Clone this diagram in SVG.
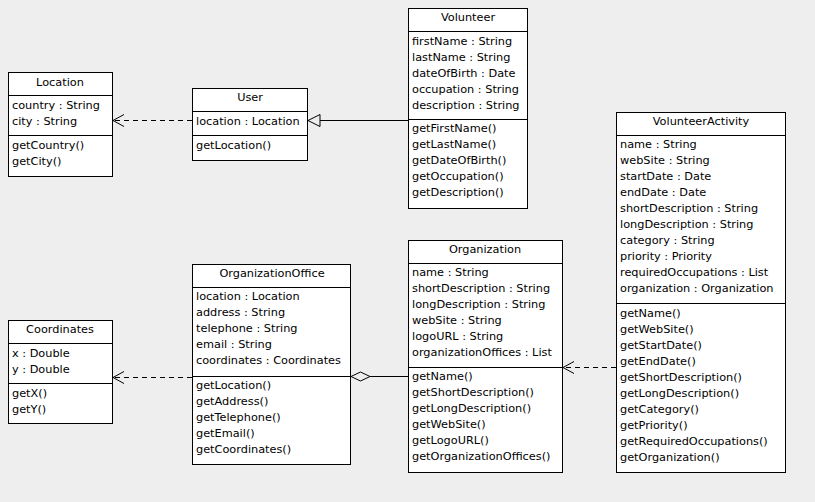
<svg xmlns="http://www.w3.org/2000/svg" width="815" height="502" viewBox="0 0 815 502">
<style>
rect.b{fill:#fff;stroke:#000;stroke-width:1}
line.s{stroke:#000;stroke-width:1}
text{font-family:"DejaVu Sans",sans-serif;font-size:11.3px;fill:#000}
text.t{text-anchor:middle}
.c{stroke:#000;stroke-width:1;fill:none}
.d{stroke-dasharray:5,4}
</style>
<rect width="815" height="502" fill="#eeeeee"/>
<g id="connectors">
<line class="c d" x1="192" y1="120.5" x2="114" y2="120.5"/>
<polyline class="c" points="124,114.5 113,120.5 124,126.5"/>
<line class="c" x1="408" y1="120.5" x2="320" y2="120.5"/>
<polygon class="c" points="308,120.5 320,114.5 320,126.5" fill="#fff"/>
<line class="c d" x1="192" y1="377.5" x2="114" y2="377.5"/>
<polyline class="c" points="124,371.5 113,377.5 124,383.5"/>
<line class="c" x1="370" y1="376.5" x2="408" y2="376.5"/>
<polygon class="c" points="351,376.5 360.5,372 370,376.5 360.5,381" fill="#fff"/>
<line class="c d" x1="616" y1="367.5" x2="564" y2="367.5"/>
<polyline class="c" points="574,361.5 563,367.5 574,373.5"/>
</g>
<g id="Location">
<rect class="b" x="8.5" y="72.5" width="104" height="104"/>
<text class="t" x="60" y="86">Location</text>
<line class="s" x1="8.5" y1="95.5" x2="112.5" y2="95.5"/>
<text x="12" y="109">country : String</text>
<text x="12" y="125">city : String</text>
<line class="s" x1="8.5" y1="135.5" x2="112.5" y2="135.5"/>
<text x="12" y="149">getCountry()</text>
<text x="12" y="165">getCity()</text>
</g>
<g id="User">
<rect class="b" x="192.5" y="88.5" width="115" height="72"/>
<text class="t" x="250" y="101">User</text>
<line class="s" x1="192.5" y1="111.5" x2="307.5" y2="111.5"/>
<text x="196" y="125">location : Location</text>
<line class="s" x1="192.5" y1="135.5" x2="307.5" y2="135.5"/>
<text x="196" y="149">getLocation()</text>
</g>
<g id="Volunteer">
<rect class="b" x="408.5" y="8.5" width="119" height="200"/>
<text class="t" x="468" y="21">Volunteer</text>
<line class="s" x1="408.5" y1="31.5" x2="527.5" y2="31.5"/>
<text x="412" y="45">firstName : String</text>
<text x="412" y="61">lastName : String</text>
<text x="412" y="77">dateOfBirth : Date</text>
<text x="412" y="93">occupation : String</text>
<text x="412" y="109">description : String</text>
<line class="s" x1="408.5" y1="119.5" x2="527.5" y2="119.5"/>
<text x="412" y="132">getFirstName()</text>
<text x="412" y="148">getLastName()</text>
<text x="412" y="164">getDateOfBirth()</text>
<text x="412" y="180">getOccupation()</text>
<text x="412" y="196">getDescription()</text>
</g>
<g id="VolunteerActivity">
<rect class="b" x="616.5" y="112.5" width="169" height="360"/>
<text class="t" x="701" y="125">VolunteerActivity</text>
<line class="s" x1="616.5" y1="135.5" x2="785.5" y2="135.5"/>
<text x="620" y="148">name : String</text>
<text x="620" y="164">webSite : String</text>
<text x="620" y="180">startDate : Date</text>
<text x="620" y="196">endDate : Date</text>
<text x="620" y="212">shortDescription : String</text>
<text x="620" y="228">longDescription : String</text>
<text x="620" y="244">category : String</text>
<text x="620" y="260">priority : Priority</text>
<text x="620" y="276">requiredOccupations : List</text>
<text x="620" y="292">organization : Organization</text>
<line class="s" x1="616.5" y1="303.5" x2="785.5" y2="303.5"/>
<text x="620" y="317">getName()</text>
<text x="620" y="333">getWebSite()</text>
<text x="620" y="349">getStartDate()</text>
<text x="620" y="365">getEndDate()</text>
<text x="620" y="381">getShortDescription()</text>
<text x="620" y="397">getLongDescription()</text>
<text x="620" y="413">getCategory()</text>
<text x="620" y="429">getPriority()</text>
<text x="620" y="445">getRequiredOccupations()</text>
<text x="620" y="461">getOrganization()</text>
</g>
<g id="Organization">
<rect class="b" x="408.5" y="240.5" width="154" height="232"/>
<text class="t" x="485" y="253">Organization</text>
<line class="s" x1="408.5" y1="263.5" x2="562.5" y2="263.5"/>
<text x="412" y="276">name : String</text>
<text x="412" y="292">shortDescription : String</text>
<text x="412" y="308">longDescription : String</text>
<text x="412" y="324">webSite : String</text>
<text x="412" y="340">logoURL : String</text>
<text x="412" y="356">organizationOffices : List</text>
<line class="s" x1="408.5" y1="367.5" x2="562.5" y2="367.5"/>
<text x="412" y="380">getName()</text>
<text x="412" y="396">getShortDescription()</text>
<text x="412" y="412">getLongDescription()</text>
<text x="412" y="428">getWebSite()</text>
<text x="412" y="444">getLogoURL()</text>
<text x="412" y="460">getOrganizationOffices()</text>
</g>
<g id="OrganizationOffice">
<rect class="b" x="192.5" y="264.5" width="158" height="200"/>
<text class="t" x="272" y="277">OrganizationOffice</text>
<line class="s" x1="192.5" y1="287.5" x2="350.5" y2="287.5"/>
<text x="196" y="300">location : Location</text>
<text x="196" y="316">address : String</text>
<text x="196" y="332">telephone : String</text>
<text x="196" y="348">email : String</text>
<text x="196" y="364">coordinates : Coordinates</text>
<line class="s" x1="192.5" y1="376.5" x2="350.5" y2="376.5"/>
<text x="196" y="389">getLocation()</text>
<text x="196" y="405">getAddress()</text>
<text x="196" y="421">getTelephone()</text>
<text x="196" y="437">getEmail()</text>
<text x="196" y="453">getCoordinates()</text>
</g>
<g id="Coordinates">
<rect class="b" x="8.5" y="320.5" width="104" height="103"/>
<text class="t" x="60" y="333">Coordinates</text>
<line class="s" x1="8.5" y1="343.5" x2="112.5" y2="343.5"/>
<text x="12" y="357">x : Double</text>
<text x="12" y="373">y : Double</text>
<line class="s" x1="8.5" y1="383.5" x2="112.5" y2="383.5"/>
<text x="12" y="397">getX()</text>
<text x="12" y="413">getY()</text>
</g>
</svg>
